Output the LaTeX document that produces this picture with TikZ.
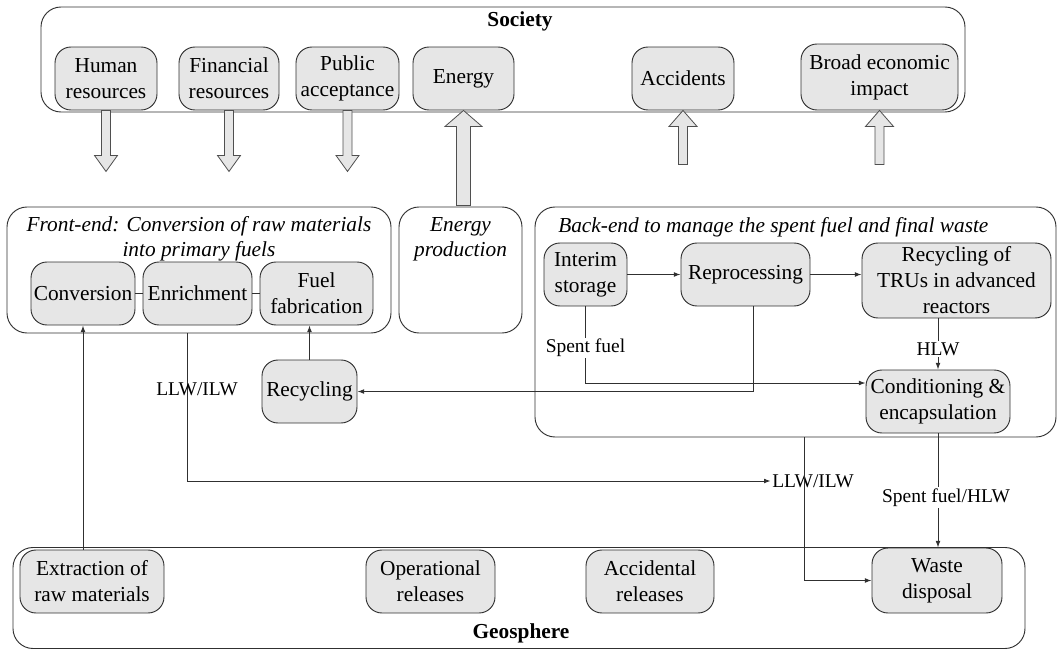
\documentclass[tikz,border=0pt]{standalone}
\usepackage{fontspec}
\setmainfont{Liberation Serif}
\usetikzlibrary{arrows.meta,calc}
\definecolor{boxfill}{HTML}{E6E6E6}
\definecolor{ink}{HTML}{303030}
\tikzset{
  region/.style={draw=ink, line width=0.7pt, rounded corners=15pt, inner sep=0pt},
  stage/.style={draw=ink, fill=boxfill, line width=0.7pt, rounded corners=12pt,
    align=center, inner sep=1pt, font=\fontsize{16}{19.5}\selectfont},
  wh/.style 2 args={minimum width=#1*0.75pt, minimum height=#2*0.75pt},
  flow/.style={draw=ink, line width=0.7pt, -{Latex[length=5pt,width=3.6pt]}},
  link/.style={draw=ink, line width=0.7pt},
  lbl/.style={font=\fontsize{14.6}{17}\selectfont, inner sep=1pt},
  heading/.style={font=\fontsize{16}{19.5}\selectfont\bfseries, inner sep=0pt},
  iheading/.style={font=\fontsize{16}{19}\selectfont\itshape, align=center, inner sep=0pt},
  blockarrow/.style={draw=ink!85, fill=boxfill, line width=0.6pt, line join=miter},
}
% hollow arrow pointing down, hanging from a node
\newcommand{\blockdown}[1]{%
  \filldraw[blockarrow] (#1.south) ++(-4.5,0) -- ++(0,45) -- ++(-7,0)
    -- ++(11.5,16) -- ++(11.5,-16) -- ++(-7,0) -- ++(0,-45) -- cycle;}
% hollow arrow pointing up into a node: node, shaft, head, half shaft, half head
\newcommand{\blockup}[5]{%
  \filldraw[blockarrow] (#1.south) -- ++(#5,#3) -- ++({#4-#5},0) -- ++(0,#2)
    -- ++({-2*#4},0) -- ++(0,{-#2}) -- ++({#4-#5},0) -- cycle;}

\begin{document}
\begin{tikzpicture}[x=0.75pt,y=-0.75pt]
\useasboundingbox (0,0) rectangle (1058,650);

% ---- large regions
\node[region, wh={924}{105}] (society) at (503,59.5) {};
\node[region, wh={384}{126}] (frontend) at (199,270) {};
\node[region, wh={123}{126}] (energyprod) at (460.5,270) {};
\node[region, wh={521}{230}] (backend) at (795.5,322) {};
\node[region, wh={1012}{101}] (geosphere) at (519,598) {};

\node[heading] (societytitle) at (520,21) {Society};
\node[heading] (geotitle) at (521,633) {Geosphere};
\node[iheading] (fronttitle) at (199,239) {Front-end: Conversion of raw materials\\into primary fuels};
\node[iheading] (eptitle) at (460.5,239) {Energy\\production};
\node[iheading, anchor=base west] (backtitle) at (558,232) {Back-end to manage the spent fuel and final waste};

% ---- society
\node[stage, wh={102}{63}] (hr) at (106,78.5) {Human\\resources};
\node[stage, wh={100}{63}] (fin) at (229,78.5) {Financial\\resources};
\node[stage, wh={103}{63}] (pub) at (347.5,78.5) {Public\\acceptance};
\node[stage, wh={101}{63}] (energy) at (463.5,78.5) {Energy};
\node[stage, wh={102}{63}] (acc) at (683,78.5) {Accidents};
\node[stage, wh={157}{66}] (broad) at (879.5,77) {Broad economic\\impact};

% ---- front-end
\node[stage, wh={104}{63}] (conv) at (83,293.5) {Conversion};
\node[stage, wh={109}{63}] (enrich) at (197.5,293.5) {Enrichment};
\node[stage, wh={113}{63}] (fuel) at (316.5,293.5) {Fuel\\fabrication};
\node[stage, wh={95}{63}] (recyc) at (309.5,391.5) {Recycling};

% ---- back-end
\node[stage, wh={83}{63}] (interim) at (585.5,274.5) {Interim\\storage};
\node[stage, wh={129}{63}] (repro) at (745.5,274.5) {Reprocessing};
\node[stage, wh={189}{75}] (tru) at (956.5,280.5) {Recycling of\\TRUs in advanced\\reactors};
\node[stage, wh={144}{63}] (cond) at (938,401.5) {Conditioning \&\\encapsulation};

% ---- geosphere
\node[stage, wh={144}{63}] (extr) at (92,581.5) {Extraction of\\raw materials};
\node[stage, wh={129}{63}] (oper) at (430.5,581.5) {Operational\\releases};
\node[stage, wh={128}{63}] (accrel) at (650,581.5) {Accidental\\releases};
\node[stage, wh={130}{65}] (wd) at (937,580.5) {Waste\\disposal};

\node[lbl] (llw) at (813,481) {LLW/ILW};

% ---- hollow arrows between society and the fuel cycle
\blockdown{hr}
\blockdown{fin}
\blockdown{pub}
\blockup{energy}{79}{16}{7}{18.5}
\blockup{acc}{38}{16}{4.5}{14}
\blockup{broad}{38}{16}{4.5}{14}

% ---- material flows
\draw[link] (conv.east) -- (enrich.west);
\draw[link] (enrich.east) -- (fuel.west);
\draw[flow] (conv.south |- extr.north) -- (conv.south);
\draw[flow] (recyc.north) -- (recyc.north |- fuel.south);
\draw[flow] (interim.east) -- (repro.west);
\draw[flow] (repro.east) -- (tru.west |- repro.east);
\draw[flow] (tru.south -| cond.north) -- node[lbl, fill=white, pos=0.6] (hlw) {HLW} (cond.north);
\draw[flow] (interim.south) |- node[lbl, fill=white, pos=0.27] (spent) {Spent fuel} (cond.west |- 0,383);
\draw[flow] ([xshift=6pt]repro.south) |- (recyc.east);
\draw[flow] (frontend.south -| 187,0) |- node[lbl, pos=0.19, xshift=7.5pt] (llwleft) {LLW/ILW} (llw.west);
\draw[flow] (backend.south -| 804,0) |- (wd.west);
\draw[flow] (cond.south) -- node[lbl, fill=white, pos=0.56, xshift=6pt] (sfhlw) {Spent fuel/HLW} (cond.south |- wd.north);
\end{tikzpicture}
\end{document}
